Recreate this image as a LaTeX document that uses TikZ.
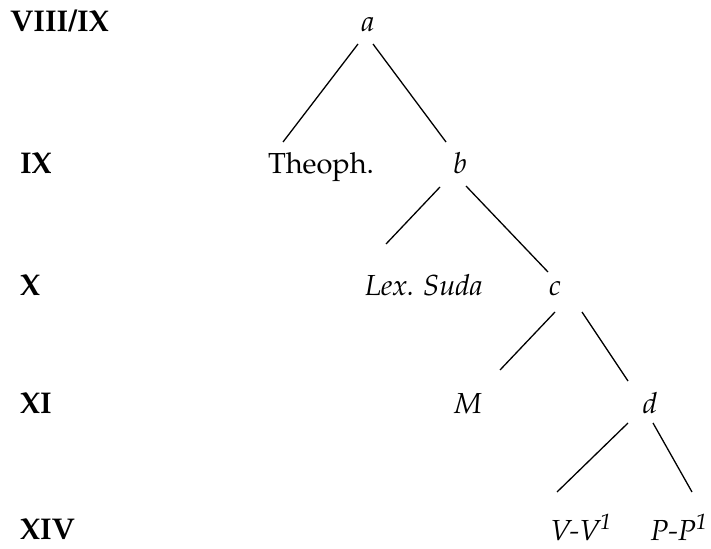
\documentclass[tikz,border=0pt]{standalone}
\usepackage[T1]{fontenc}
\usepackage{mathpazo}
\begin{document}
\begin{tikzpicture}[x=1pt,y=-1pt,
  every node/.style={inner sep=0pt, outer sep=0pt, anchor=base, font=\fontsize{29}{34}\selectfont},
  century/.style={anchor=base west, font=\fontsize{30}{34}\selectfont\bfseries},
  witness/.style={font=\fontsize{29}{34}\selectfont\itshape},
  branch/.style={line width=1.3pt}]
\useasboundingbox (0,0) rectangle (711,548);

% century labels
\node[century] (c8) at (10,32) {VIII/IX};
\node[century] (c9) at (20,173) {IX};
\node[century] (c10) at (20,295) {X};
\node[century] (c11) at (20,413) {XI};
\node[century] (c14) at (20,539) {XIV};

% stemma
\node[witness] (a) at (368,32) {a};
\node (theoph) at (321,173) {Theoph.};
\node[witness] (b) at (460,173) {b};
\node[witness] (lex) at (424,295) {Lex. Suda};
\node[witness] (c) at (555,295) {c};
\node[witness] (M) at (468,413) {M};
\node[witness] (d) at (650,413) {d};
\node[witness] (V) at (581,540) {V-V\textsuperscript{1}};
\node[witness] (P) at (679,540) {P-P\textsuperscript{1}};

% branches
\draw[branch] ([shift={(-10,12)}]a.base) -- ([shift={(-38,-31)}]theoph.base);
\draw[branch] ([shift={(5,12)}]a.base) -- ([shift={(-14,-31)}]b.base);
\draw[branch] ([shift={(-20,14)}]b.base) -- ([shift={(-38,-51)}]lex.base);
\draw[branch] ([shift={(6,13)}]b.base) -- ([shift={(-7,-23)}]c.base);
\draw[branch] ([shift={(0,17)}]c.base) -- ([shift={(32,-43)}]M.base);
\draw[branch] ([shift={(27,17)}]c.base) -- ([shift={(-22,-32)}]d.base);
\draw[branch] ([shift={(-22,10)}]d.base) -- ([shift={(-24,-48)}]V.base);
\draw[branch] ([shift={(3,10)}]d.base) -- ([shift={(13,-48)}]P.base);
\end{tikzpicture}
\end{document}
